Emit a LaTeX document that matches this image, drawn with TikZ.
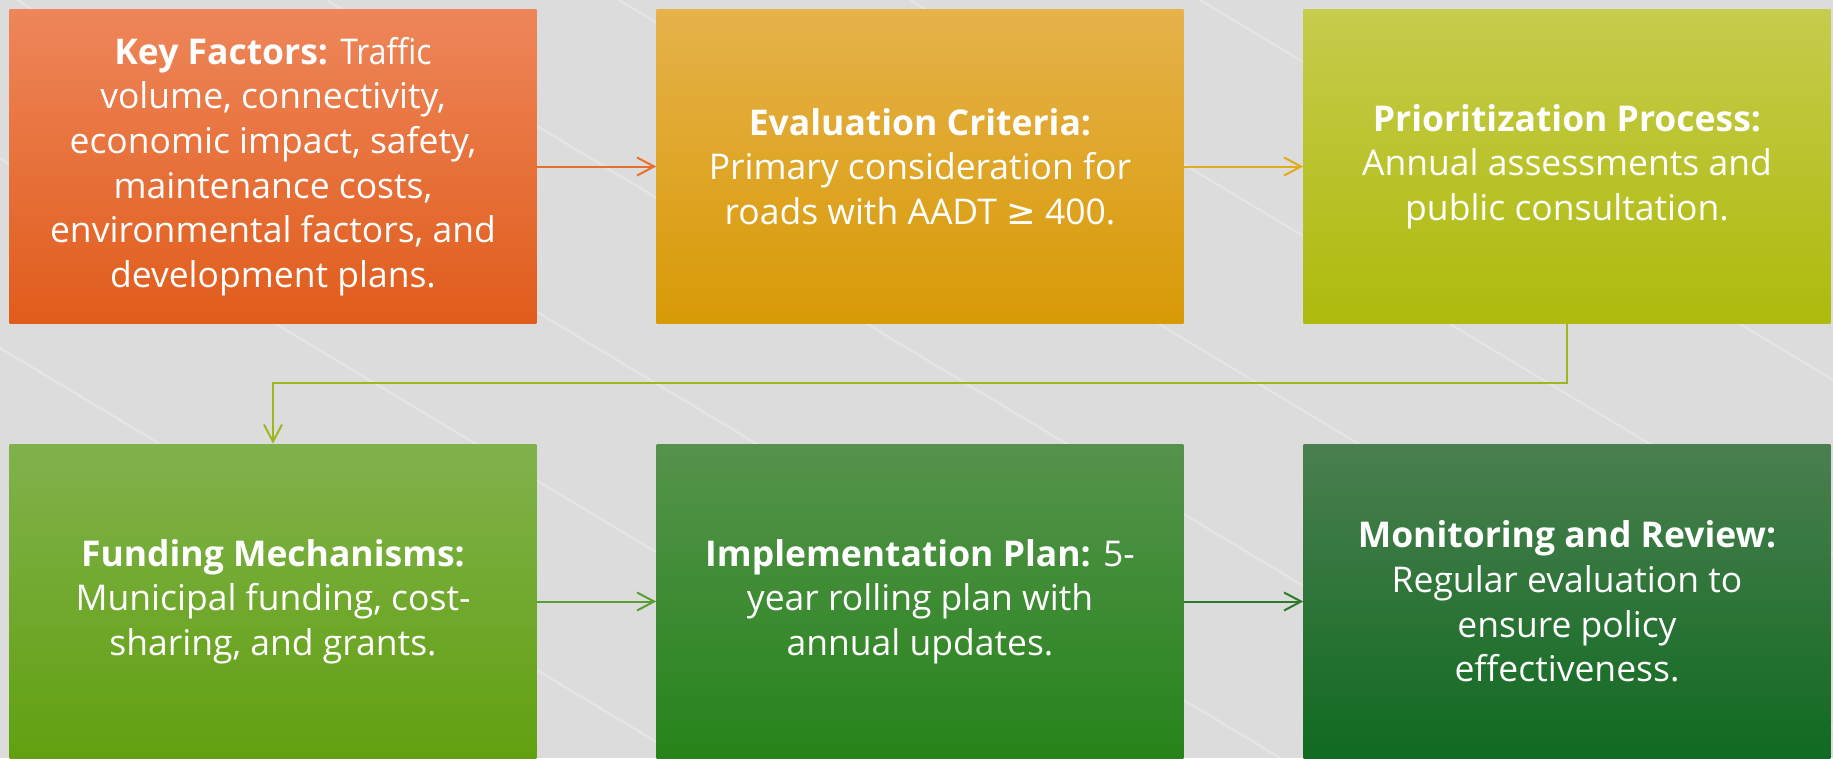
\documentclass[tikz,border=0pt]{standalone}
\usepackage{fontspec}
\usepackage{tikz}
\usetikzlibrary{arrows.meta}
\usetikzlibrary{positioning}
\setmainfont{Open Sans}
\newfontfamily\condfont[FakeStretch=0.9]{Open Sans}
\newfontfamily\symfont{DejaVu Sans}

\definecolor{bgGray}{HTML}{DCDCDC}
\definecolor{keyTop}{HTML}{EE865A}
\definecolor{keyBot}{HTML}{E05C1B}
\definecolor{evalTop}{HTML}{E6B24A}
\definecolor{evalBot}{HTML}{D89A06}
\definecolor{prioTop}{HTML}{C6CC4C}
\definecolor{prioBot}{HTML}{AEBA0C}
\definecolor{fundTop}{HTML}{80B24C}
\definecolor{fundBot}{HTML}{62A010}
\definecolor{implTop}{HTML}{55934C}
\definecolor{implBot}{HTML}{26841A}
\definecolor{monTop}{HTML}{4A7F50}
\definecolor{monBot}{HTML}{106A20}
\definecolor{arKey}{HTML}{E8702E}
\definecolor{arEval}{HTML}{E0AC1C}
\definecolor{arPrio}{HTML}{9DB81E}
\definecolor{arFund}{HTML}{5A9E30}
\definecolor{arImpl}{HTML}{2C7A2C}

\tikzset{
  box/.style={rectangle, minimum width=10.54cm, minimum height=6.3cm, inner sep=0pt,
    text=white, align=center, font=\fontsize{20.2}{25.4}\selectfont},
  flow/.style={-{Straight Barb[length=0.34cm,width=0.36cm]}, line width=0.04cm}
}

\begin{document}
\begin{tikzpicture}[x=0.02cm, y=-0.02cm]
\fill[bgGray] (0,0) rectangle (1833,758);
\useasboundingbox (0,0) rectangle (1833,758);
\begin{scope}
\clip (0,0) rectangle (1833,758);
\foreach \xo in {-580,-264,17,327,619,910,1200}
  \draw[white, opacity=0.28, line width=0.04cm] (\xo,0) -- ++(1300,780);
\end{scope}

% first row
\node[box, top color=keyTop, bottom color=keyBot] (R1N1) at (273,166.5)
  {\textbf{Key Factors:} \condfont Traffic\\volume, connectivity,\\economic impact, safety,\\maintenance costs,\\environmental factors, and\\development plans.};
\node[box, top color=evalTop, bottom color=evalBot] (R1N2) at (920,166.5)
  {\textbf{Evaluation Criteria:}\\Primary consideration for\\roads with AADT {\symfont ≥} 400.};
\node[box, top color=prioTop, bottom color=prioBot] (R1N3) at (1567,166.5)
  {\textbf{Prioritization Process:}\\Annual assessments and\\public consultation.};

% second row
\node[box, top color=fundTop, bottom color=fundBot] (R2N1) at (273,601.5)
  {\textbf{Funding Mechanisms:}\\Municipal funding, cost-\\sharing, and grants.};
\node[box, top color=implTop, bottom color=implBot] (R2N2) at (920,601.5)
  {\textbf{Implementation Plan:} 5-\\year rolling plan with\\annual updates.};
\node[box, top color=monTop, bottom color=monBot] (R2N3) at (1567,601.5)
  {\textbf{Monitoring and Review:}\\Regular evaluation to\\ensure policy\\effectiveness.};

\draw[flow, arKey] (R1N1) -- (R1N2);
\draw[flow, arEval] (R1N2) -- (R1N3);
\draw[flow, arPrio] (R1N3.south) -- ++(0,59) -| (R2N1.north);
\draw[flow, arFund] (R2N1) -- (R2N2);
\draw[flow, arImpl] (R2N2) -- (R2N3);
\end{tikzpicture}
\end{document}
